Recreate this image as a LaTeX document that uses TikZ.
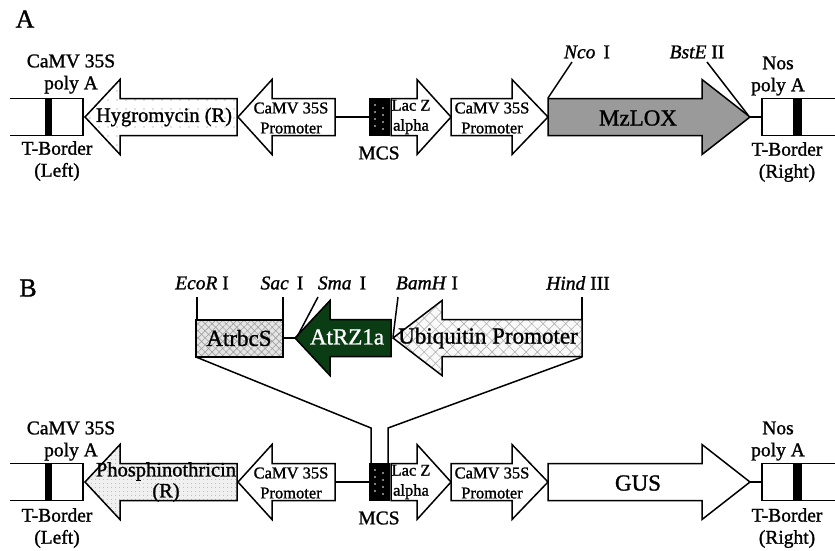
\documentclass[tikz,border=0pt]{standalone}
\usepackage{fontspec}
\setmainfont{Liberation Serif}[FakeBold=1.2,ItalicFeatures={FakeBold=1.2}]
\usetikzlibrary{patterns.meta}
\definecolor{dkgreen}{HTML}{0B3D14}
\definecolor{mzgray}{HTML}{9A9A9A}
\newcommand\RArrow[5]{\draw[gene,#1] (#2,#5-18.5) -- (#3,#5-18.5) -- (#3,#5-37.5) -- (#4,#5) -- (#3,#5+37.5) -- (#3,#5+18.5) -- (#2,#5+18.5) -- cycle;}
\newcommand\LArrow[5]{\draw[gene,#1] (#4,#5-18.5) -- (#3,#5-18.5) -- (#3,#5-37.5) -- (#2,#5) -- (#3,#5+37.5) -- (#3,#5+18.5) -- (#4,#5+18.5) -- cycle;}
\tikzset{
  gene/.style={draw=black, line width=1.5pt, line join=miter, fill=white},
  wire/.style={draw=black, line width=1.5pt},
  lbl/.style={inner sep=0pt, align=center, font=\fontsize{19.5}{22}\selectfont},
  sml/.style={inner sep=0pt, align=center, font=\fontsize{16.5}{20}\selectfont},
  big/.style={inner sep=0pt, align=center, font=\fontsize{23}{26}\selectfont},
  panel/.style={inner sep=0pt, font=\fontsize{26}{28}\selectfont},
  hygro/.style={pattern={Dots[distance=9pt,radius=0.7pt]}, pattern color=gray},
  phos/.style={preaction={fill=gray!12}, pattern={Dots[distance=4pt,radius=0.55pt]}, pattern color=gray!80},
  rbcs/.style={preaction={fill=gray!20}, pattern={Hatch[angle=45,distance=5pt,line width=0.6pt]}, pattern color=gray!75},
  ubq/.style={preaction={fill=gray!5}, pattern={Hatch[angle=45,distance=8pt,line width=0.6pt]}, pattern color=gray!60},
}
\newcommand\Cassette[1]{%
  \draw[wire] (10,#1-18.5) -- (83,#1-18.5) -- (83,#1+18.5) -- (10,#1+18.5);
  \fill (45,#1-18.5) rectangle (52,#1+18.5);
  \LArrow{}{238}{272}{335}{#1}
  \draw[wire] (335,#1) -- (370,#1);
  \draw[gene,fill=black] (370,#1-18.5) rectangle (389,#1+18.5);
  \foreach \yy in {-12,-5,2,9} {\fill[white] (375,#1+\yy) circle (0.9pt); \fill[white] (383,#1+\yy+3) circle (0.9pt);}
  \RArrow{}{391}{417}{451}{#1}
  \RArrow{}{451}{512}{548}{#1}
  \draw[wire] (750,#1) -- (762,#1);
  \draw[wire] (835,#1-18.5) -- (762,#1-18.5) -- (762,#1+18.5) -- (835,#1+18.5);
  \fill (793,#1-18.5) rectangle (802,#1+18.5);
}
\begin{document}
\begin{tikzpicture}[x=1pt,y=-1pt]
\useasboundingbox (0,0) rectangle (835,550);
\fill[white] (0,0) rectangle (835,550);

% ---------------- Panel A ----------------
\node[panel] (pA) at (25,19) {A};
\LArrow{hygro}{85}{120}{237}{117}
\RArrow{fill=mzgray}{548}{702}{750}{117}
\Cassette{117}
\node[lbl,font=\fontsize{20.5}{22}\selectfont] (hyg) at (164,117) {Hygromycin (R)};
\node[sml] (pl1) at (291,118) {CaMV 35S\\Promoter};
\node[sml] (lz1) at (411,117) {Lac Z\\alpha};
\node[sml] (pr1) at (492,118) {CaMV 35S\\Promoter};
\node[big] (mz) at (638,118) {MzLOX};
\node[lbl] (pa1) at (71,74) {CaMV 35S\\poly A};
\node[lbl] (tb1) at (57,161) {T-Border\\(Left)};
\node[lbl] (mcs1) at (379,153) {MCS};
\node[lbl] (nos1) at (778,76) {Nos\\poly A};
\node[lbl] (tr1) at (787,162) {T-Border\\(Right)};
\node[lbl] (nco) at (587,52) {\textit{Nco}\, I};
\node[lbl] (bst) at (697,52) {\textit{BstE} II};
\coordinate (ncoP) at (548,98);
\coordinate (bstP) at (748,115);
\draw[wire] (572,62) -- (ncoP);
\draw[wire] (707,62) -- (bstP);

% ---------------- Panel B ----------------
\node[panel] (pB) at (28,288) {B};
\LArrow{phos}{85}{120}{237}{482}
\RArrow{}{548}{702}{750}{482}
\Cassette{482}
\node[lbl,font=\fontsize{20.5}{21}\selectfont] (phn) at (166,482) {Phosphinothricin\\(R)};
\node[sml] (pl2) at (291,483) {CaMV 35S\\Promoter};
\node[sml] (lz2) at (411,482) {Lac Z\\alpha};
\node[sml] (pr2) at (492,483) {CaMV 35S\\Promoter};
\node[big] (gus) at (638,483) {GUS};
\node[lbl] (pa2) at (71,441) {CaMV 35S\\poly A};
\node[lbl] (tb2) at (57,528) {T-Border\\(Left)};
\node[lbl] (mcs2) at (379,518) {MCS};
\node[lbl] (nos2) at (778,441) {Nos\\poly A};
\node[lbl] (tr2) at (787,528) {T-Border\\(Right)};

% insert
\draw[gene,rbcs] (196,320) rectangle (283,357);
\draw[wire] (283,338) -- (295,338);
\LArrow{fill=dkgreen}{295}{330}{391}{338}
\LArrow{ubq}{393}{442}{582}{338}
\node[big] (rbcs) at (239,338) {AtrbcS};
\node[big,text=white] (rz) at (347,337) {AtRZ1a};
\node[big] (ubqt) at (488,338) {Ubiquitin Promoter};

\node[lbl] (eco) at (202,283) {\textit{EcoR} I};
\node[lbl] (sac) at (282,283) {\textit{Sac}\, I};
\node[lbl] (sma) at (342,283) {\textit{Sma}\, I};
\node[lbl] (bam) at (427,283) {\textit{BamH} I};
\node[lbl] (hin) at (578,283) {\textit{Hind} III};
\draw[wire] (197,297) -- (197,320);
\draw[wire] (283,297) -- (283,320);
\draw[wire] (582,297) -- (582,320);
\draw[wire] (318,297) -- (297,337);
\draw[wire] (398,297) -- (393,337);

\draw[wire] (196,357) -- (371,428) -- (371,463);
\draw[wire] (582,357) -- (388,428) -- (388,463);
\end{tikzpicture}
\end{document}
